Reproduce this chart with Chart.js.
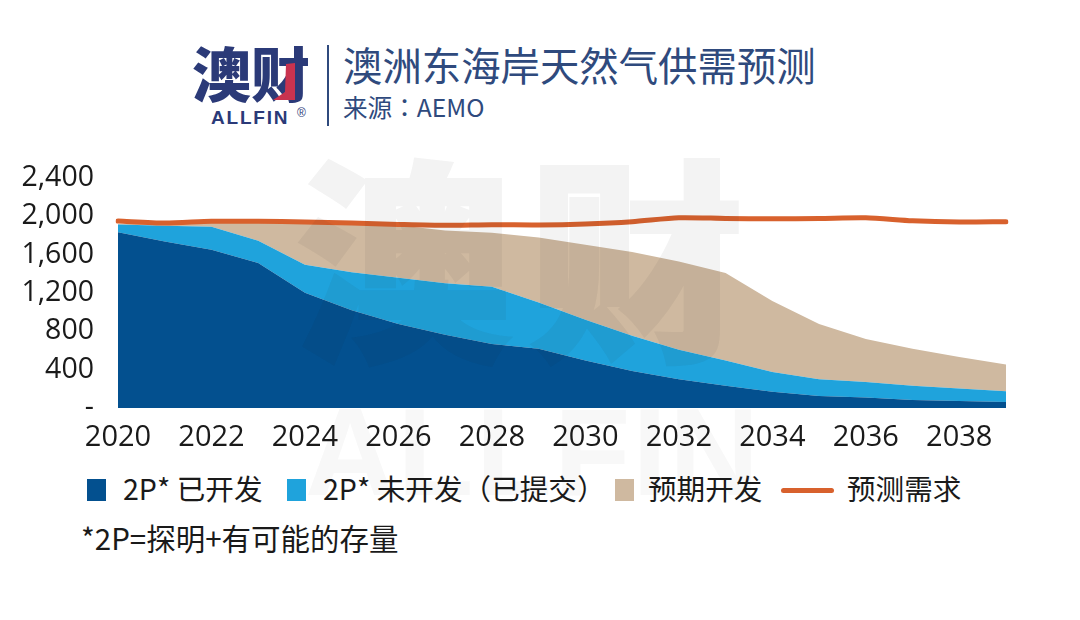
<!DOCTYPE html>
<html>
<head>
<meta charset="utf-8">
<title>澳洲东海岸天然气供需预测</title>
<script src="https://cdn.jsdelivr.net/npm/chart.js@4"></script>
<style>
  html, body { margin: 0; padding: 0; background: #fff; }
  #page { position: relative; width: 1080px; height: 620px; overflow: hidden; font-family: "Noto Sans CJK SC", "Open Sans", sans-serif; }
  #page div { position: absolute; white-space: nowrap; }
  #chartWrap { left: 0; top: 150px; width: 1080px; height: 300px; }
  .logo { left: 192px; top: 30px; font-size: 59px; line-height: 84px; font-weight: 900; color: #2b3a78; }
  .allfin { left: 211px; top: 107px; font: bold 19px "Liberation Sans", sans-serif; letter-spacing: 1.8px; color: #2b3a78; }
  .reg { left: 297px; top: 106px; font: 12px "Liberation Sans", sans-serif; color: #2b3a78; }
  .divider { left: 327px; top: 45px; width: 2px; height: 81px; background: #2f4a7d; }
  .title { left: 343px; top: 36px; font-size: 39.4px; line-height: 56px; color: #2f4a7d; }
  .source { left: 343px; top: 89px; font-size: 24.6px; line-height: 34px; color: #2f4a7d; }
  .punct { font-family: "Noto Sans CJK TC"; }
  .mark { left: 296px; top: 111px; font-size: 215px; line-height: 280px; font-weight: 900; letter-spacing: 18px; color: #282828; -webkit-text-stroke: 4px #282828; opacity: .055; pointer-events: none; }
  .markEn { left: 305px; top: 382px; font: bold 125px/140px "Liberation Sans", sans-serif; letter-spacing: 2px; color: #282828; opacity: .03; pointer-events: none; }
  .swatch { top: 479px; width: 19px; height: 22px; }
  .legendText { top: 467px; font-size: 28.6px; line-height: 42px; color: #1a1a1a; }
  .note { left: 81px; top: 516px; font-size: 29.5px; line-height: 42px; color: #1a1a1a; }
</style>
</head>
<body>
<div id="page">
  <div class="logo">澳财</div>
  <svg style="position:absolute;left:270px;top:61px" width="30" height="44"><polygon points="16,3 25,2 25,39 3,39 15,31" fill="#c9334f"/></svg>
  <div class="allfin">ALLFIN</div>
  <div class="reg">®</div>
  <div class="divider"></div>
  <div class="title">澳洲东海岸天然气供需预测</div>
  <div class="source">来源<span class="punct">：</span>AEMO</div>

  <div id="chartWrap"><canvas id="supplyChart"></canvas></div>

  <div class="swatch" style="left:87px;background:#03508f"></div>
  <div class="legendText" style="left:123px">2P* 已开发</div>
  <div class="swatch" style="left:287px;background:#1fa3dc"></div>
  <div class="legendText" style="left:323px">2P* 未开发<span class="punct">（</span>已提交<span class="punct">）</span></div>
  <div class="swatch" style="left:615px;background:#cfb9a0"></div>
  <div class="legendText" style="left:648px">预期开发</div>
  <div style="left:781px;top:488px;width:53px;height:5px;border-radius:3px;background:#d8612d"></div>
  <div class="legendText" style="left:847px">预测需求</div>
  <div class="note">*2P=探明+有可能的存量</div>

  <div class="mark">澳财</div>
  <div class="markEn">ALLFIN</div>
</div>

<script>
const years = ['2020','2021','2022','2023','2024','2025','2026','2027','2028','2029',
               '2030','2031','2032','2033','2034','2035','2036','2037','2038','2039'];
const yearTicks = ['2020','2022','2024','2026','2028','2030','2032','2034','2036','2038'];
const valueTicks = [0, 400, 800, 1200, 1600, 2000, 2400];

// stacked layers
const developed = [1833,1737,1651,1513,1203,1020,876,765,669,617,496,386,300,231,169,124,110,83,72,62];
const undeveloped = [83,166,241,232,293,396,482,538,596,483,424,369,307,265,206,176,162,148,132,114];
const anticipated = [4,22,38,185,429,504,548,548,565,679,783,872,923,914,742,576,449,386,327,279];
const demand = [1951,1930,1948,1948,1941,1930,1916,1906,1913,1910,1920,1944,1985,1978,1975,1978,1985,1954,1941,1944];

function formatValue(v) {
    if (v === 0) return '-';
    return v.toLocaleString('en-US');
}

new Chart(document.getElementById('supplyChart'), {
    type: 'line',
    data: {
        labels: years,
        datasets: [
            { label: '预测需求', data: demand, stack: 'demand', borderColor: '#d8612d', borderWidth: 5, borderCapStyle: 'round', pointRadius: 0, fill: false, tension: 0.25, order: 0 },
            { label: '2P* 已开发', data: developed, stack: 'supply', backgroundColor: '#03508f', borderWidth: 0, pointRadius: 0, fill: 'origin', order: 1 },
            { label: '2P* 未开发（已提交）', data: undeveloped, stack: 'supply', backgroundColor: '#1fa3dc', borderWidth: 0, pointRadius: 0, fill: '-1', order: 2 },
            { label: '预期开发', data: anticipated, stack: 'supply', backgroundColor: '#cfb9a0', borderWidth: 0, pointRadius: 0, fill: '-1', order: 3 }
        ]
    },
    options: {
        responsive: true,
        maintainAspectRatio: false,
        animation: false,
        devicePixelRatio: 1,
        layout: { padding: { top: 28, right: 74, left: 0, bottom: 0 } },
        plugins: { legend: { display: false }, tooltip: { enabled: false } },
        scales: {
            x: {
                stacked: true,
                offset: false,
                grid: { display: false },
                border: { display: false },
                afterFit: scale => { scale.height = 42; },
                ticks: {
                    autoSkip: false,
                    maxRotation: 0,
                    padding: 4,
                    color: '#1a1a1a',
                    font: { family: '"Open Sans"', size: 29 },
                    callback: function (v) {
                        const label = this.getLabelForValue(v);
                        return yearTicks.includes(label) ? label : '';
                    }
                }
            },
            y: {
                stacked: true,
                min: valueTicks[0],
                max: valueTicks[valueTicks.length - 1],
                grid: { display: false },
                border: { display: false },
                afterFit: scale => { scale.width = 118; scale.paddingTop = 0; scale.paddingBottom = 0; },
                ticks: {
                    autoSkip: false,
                    stepSize: 400,
                    padding: 16,
                    color: '#1a1a1a',
                    font: { family: '"Open Sans"', size: 28.5 },
                    callback: formatValue
                }
            }
        }
    }
});
</script>
</body>
</html>
